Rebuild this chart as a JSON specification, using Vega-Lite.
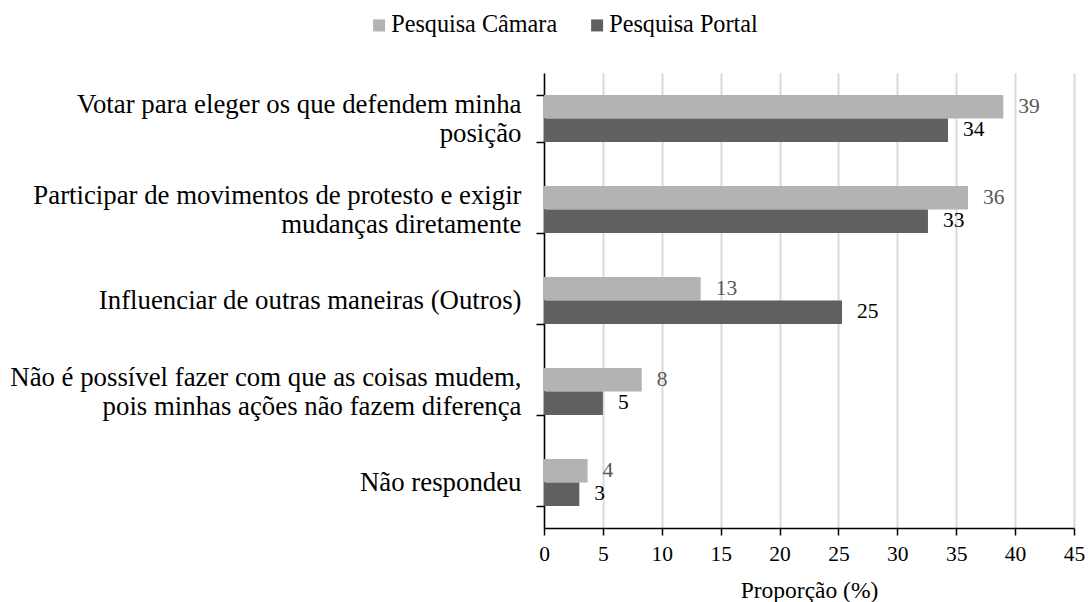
{
  "$schema": "https://vega.github.io/schema/vega-lite/v6.json",
  "width": 530,
  "height": 455,
  "autosize": {"type": "none"},
  "padding": {"left": 544, "top": 73, "right": 14, "bottom": 74},
  "background": "white",
  "config": {
    "view": {"stroke": null}
  },
  "data": {
    "values": [
      {"resposta": "Votar para eleger os que defendem minha\nposição", "pesquisa": "Pesquisa Câmara", "proporcao": 39.0},
      {"resposta": "Votar para eleger os que defendem minha\nposição", "pesquisa": "Pesquisa Portal", "proporcao": 34.3},
      {"resposta": "Participar de movimentos de protesto e exigir\nmudanças diretamente", "pesquisa": "Pesquisa Câmara", "proporcao": 36.0},
      {"resposta": "Participar de movimentos de protesto e exigir\nmudanças diretamente", "pesquisa": "Pesquisa Portal", "proporcao": 32.6},
      {"resposta": "Influenciar de outras maneiras (Outros)", "pesquisa": "Pesquisa Câmara", "proporcao": 13.3},
      {"resposta": "Influenciar de outras maneiras (Outros)", "pesquisa": "Pesquisa Portal", "proporcao": 25.3},
      {"resposta": "Não é possível fazer com que as coisas mudem,\npois minhas ações não fazem diferença", "pesquisa": "Pesquisa Câmara", "proporcao": 8.3},
      {"resposta": "Não é possível fazer com que as coisas mudem,\npois minhas ações não fazem diferença", "pesquisa": "Pesquisa Portal", "proporcao": 5.0},
      {"resposta": "Não respondeu", "pesquisa": "Pesquisa Câmara", "proporcao": 3.7},
      {"resposta": "Não respondeu", "pesquisa": "Pesquisa Portal", "proporcao": 3.0}
    ]
  },
  "encoding": {
    "y": {
      "field": "resposta",
      "type": "nominal",
      "sort": null,
      "scale": {"paddingInner": 0.484, "paddingOuter": 0.242},
      "axis": {
        "title": null,
        "labelExpr": "isValid(datum.value) ? split(datum.value, '\\n') : ''",
        "labelFont": "Times New Roman",
        "labelFontSize": 26.8,
        "labelLineHeight": 29,
        "labelColor": "#000000",
        "labelLimit": 0,
        "labelPadding": 15,
        "labelAlign": "right",
        "labelBaseline": "middle",
        "labelOffset": {"condition": {"test": "isValid(datum.value) && indexof(datum.value, '\\n') >= 0", "value": -14.5}, "value": 0},
        "tickBand": "extent",
        "tickSize": 8,
        "tickColor": "#000000",
        "tickWidth": 1.5,
        "domainColor": "#000000",
        "domainWidth": 1.5,
        "grid": false
      }
    },
    "yOffset": {
      "field": "pesquisa",
      "type": "nominal",
      "sort": ["Pesquisa Câmara", "Pesquisa Portal"],
      "scale": {"paddingInner": 0, "paddingOuter": 0}
    },
    "x": {
      "field": "proporcao",
      "type": "quantitative",
      "scale": {"domain": [0, 45], "nice": false},
      "axis": {
        "title": "Proporção (%)",
        "titleFont": "Times New Roman",
        "titleFontSize": 23.5,
        "titleFontWeight": "normal",
        "titleColor": "#000000",
        "titlePadding": 14,
        "values": [0, 5, 10, 15, 20, 25, 30, 35, 40, 45],
        "labelFont": "Times New Roman",
        "labelFontSize": 21.5,
        "labelColor": "#000000",
        "labelPadding": 8,
        "labelFlush": false,
        "tickSize": 7,
        "tickColor": "#000000",
        "tickWidth": 1.5,
        "domainColor": "#000000",
        "domainWidth": 1.5,
        "grid": true,
        "gridColor": "#d9d9d9",
        "gridWidth": 2
      }
    }
  },
  "layer": [
    {
      "mark": {"type": "bar"},
      "encoding": {
        "color": {
          "field": "pesquisa",
          "type": "nominal",
          "scale": {"domain": ["Pesquisa Câmara", "Pesquisa Portal"], "range": ["#b3b3b3", "#606060"]},
          "legend": {
            "orient": "none",
            "legendX": -177,
            "legendY": -60,
            "direction": "horizontal",
            "title": null,
            "symbolType": "square",
            "symbolSize": 144,
            "symbolStrokeWidth": 0,
            "labelFont": "Times New Roman",
            "labelFontSize": 24.2,
            "labelColor": "#000000",
            "labelLimit": 0,
            "labelOffset": 0,
            "columnPadding": 27,
            "padding": 0
          }
        }
      }
    },
    {
      "mark": {"type": "text", "align": "left", "baseline": "middle", "dx": 15, "fontSize": 21.5, "font": "Times New Roman"},
      "encoding": {
        "text": {"field": "proporcao", "type": "quantitative", "format": ".0f"},
        "color": {
          "condition": {"test": "datum.pesquisa === 'Pesquisa Câmara'", "value": "#595959"},
          "value": "#000000"
        }
      }
    }
  ]
}
